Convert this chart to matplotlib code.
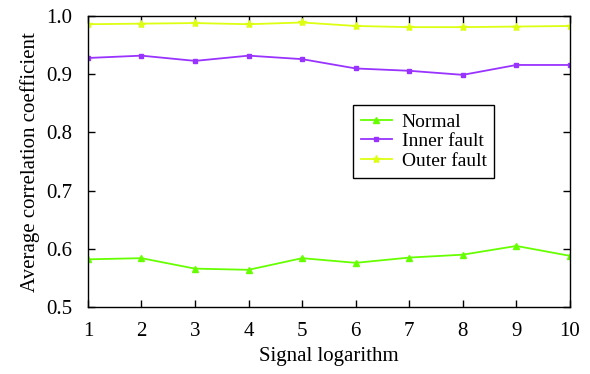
import matplotlib
matplotlib.use("Agg")
import matplotlib.pyplot as plt

x = [1, 2, 3, 4, 5, 6, 7, 8, 9, 10]
normal = [0.582, 0.584, 0.566, 0.564, 0.584, 0.576, 0.585, 0.590, 0.605, 0.588]
inner = [0.928, 0.932, 0.923, 0.932, 0.926, 0.910, 0.906, 0.899, 0.916, 0.916]
outer = [0.986, 0.987, 0.988, 0.986, 0.989, 0.983, 0.981, 0.981, 0.982, 0.983]
yticks = [0.5, 0.6, 0.7, 0.8, 0.9, 1.0]
ytick_labels = ["0.5", "0.6", "0.7", "0.8", "0.9", "1.0"]

plt.rcParams['font.family'] = ['Liberation Serif', 'DejaVu Serif']

fig = plt.figure(figsize=(5.9, 3.74), dpi=100)
ax = fig.add_axes([0.149, 0.179, 0.817, 0.778])

ax.plot(x, normal, color='#66ff00', marker='^', markersize=4, lw=1.3, label='Normal')
ax.plot(x, inner, color='#9933ff', marker='s', markersize=3, lw=1.3, label='Inner fault')
ax.plot(x, outer, color='#ddff11', marker='*', markersize=6, lw=1.3, label='Outer fault')

ax.set_xlim(1, 10)
ax.set_ylim(0.5, 1.0)
ax.set_xticks(x)
ax.set_yticks(yticks)
ax.set_yticklabels(ytick_labels)
ax.tick_params(direction='in', top=True, right=True, labelsize=15, length=5, width=1)
ax.tick_params(axis='x', pad=11)
ax.tick_params(axis='y', pad=11)
for s in ax.spines.values():
    s.set_linewidth(1.0)

ax.set_xlabel('Signal logarithm', fontsize=15, labelpad=4)
ax.set_ylabel('Average correlation coefficient', fontsize=15, labelpad=5)

leg = ax.legend(loc='upper left', bbox_to_anchor=(0.53, 0.727), fontsize=14,
                fancybox=False, edgecolor='black', framealpha=1,
                handlelength=1.6, borderpad=0.4, labelspacing=0.1, handletextpad=0.5)
leg.get_frame().set_linewidth(1.0)

fig.savefig('out.png', dpi=100)
